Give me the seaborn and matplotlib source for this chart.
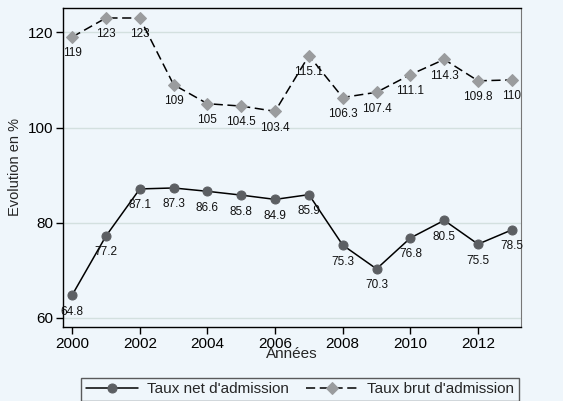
import pandas as pd
import matplotlib
matplotlib.use('Agg')
import matplotlib.pyplot as plt
import seaborn as sns

# Data
years = list(range(2000, 2014))
taux_net = [64.8, 77.2, 87.1, 87.3, 86.6, 85.8, 84.9, 85.9, 75.3, 70.3, 76.8, 80.5, 75.5, 78.5]
taux_brut = [119, 123, 123, 109, 105, 104.5, 103.4, 115.1, 106.3, 107.4, 111.1, 114.3, 109.8, 110]
net_labels = ['64.8', '77.2', '87.1', '87.3', '86.6', '85.8', '84.9', '85.9', '75.3', '70.3', '76.8', '80.5', '75.5', '78.5']
brut_labels = ['119', '123', '123', '109', '105', '104.5', '103.4', '115.1', '106.3', '107.4', '111.1', '114.3', '109.8', '110']

df = pd.DataFrame({'annee': years, 'net': taux_net, 'brut': taux_brut})

sns.set_style('white')
plt.rcParams['font.family'] = ['Liberation Sans', 'DejaVu Sans']

bg = '#EFF6FB'
fig = plt.figure(figsize=(5.63, 4.01), dpi=100, facecolor=bg)
ax = fig.add_axes([63 / 563, 1 - 327 / 401, (521 - 63) / 563, (327 - 8) / 401])
ax.set_facecolor(bg)

# Lines
sns.lineplot(data=df, x='annee', y='net', ax=ax, color='black', linewidth=1.1,
             marker='o', markersize=6.5, markerfacecolor='#5c5f63', markeredgecolor='#5c5f63',
             label="Taux net d'admission")
sns.lineplot(data=df, x='annee', y='brut', ax=ax, color='black', linewidth=1.1,
             linestyle=(0, (6, 3)), marker='D', markersize=6, markerfacecolor='#9a9c9e',
             markeredgecolor='#9a9c9e', label="Taux brut d'admission")

# Value labels below points
for x, y, t in zip(years, taux_net, net_labels):
    ax.annotate(t, (x, y), xytext=(0, -7.5), textcoords='offset points',
                ha='center', va='top', fontsize=8.5, color='#111111')
for x, y, t in zip(years, taux_brut, brut_labels):
    ax.annotate(t, (x, y), xytext=(0, -7.5), textcoords='offset points',
                ha='center', va='top', fontsize=8.5, color='#111111')

ax.set_xlim(1999.73, 2013.27)
ax.set_ylim(58.1, 125.1)
ax.set_yticks([60, 80, 100, 120])
ax.set_xticks(range(2000, 2013, 2))
ax.grid(axis='y', color='#d3e0df', linewidth=1)
ax.set_axisbelow(True)
ax.tick_params(axis='both', direction='out', length=5, width=1, color='black',
               labelsize=11, labelcolor='black', left=True, bottom=True, pad=2)

for side in ['left', 'bottom', 'top']:
    ax.spines[side].set_color('black')
    ax.spines[side].set_linewidth(1)
ax.spines['right'].set_color('#777777')

ax.set_xlabel('Années', fontsize=11, labelpad=-3)
ax.set_ylabel('Evolution en %', fontsize=10.5, labelpad=4)

ax.legend().remove()
handles, labels = ax.get_legend_handles_labels()
leg = fig.legend(handles, labels, loc='upper center', bbox_to_anchor=(300 / 563, 1 - 370 / 401),
                 ncol=2, fontsize=11, frameon=True, fancybox=False, edgecolor='#333333',
                 handlelength=3.4, columnspacing=1.1, handletextpad=0.6, borderpad=0.3)
leg.get_frame().set_facecolor(bg)
leg.get_frame().set_linewidth(1)

fig.savefig('out.png', dpi=100, facecolor=bg)
